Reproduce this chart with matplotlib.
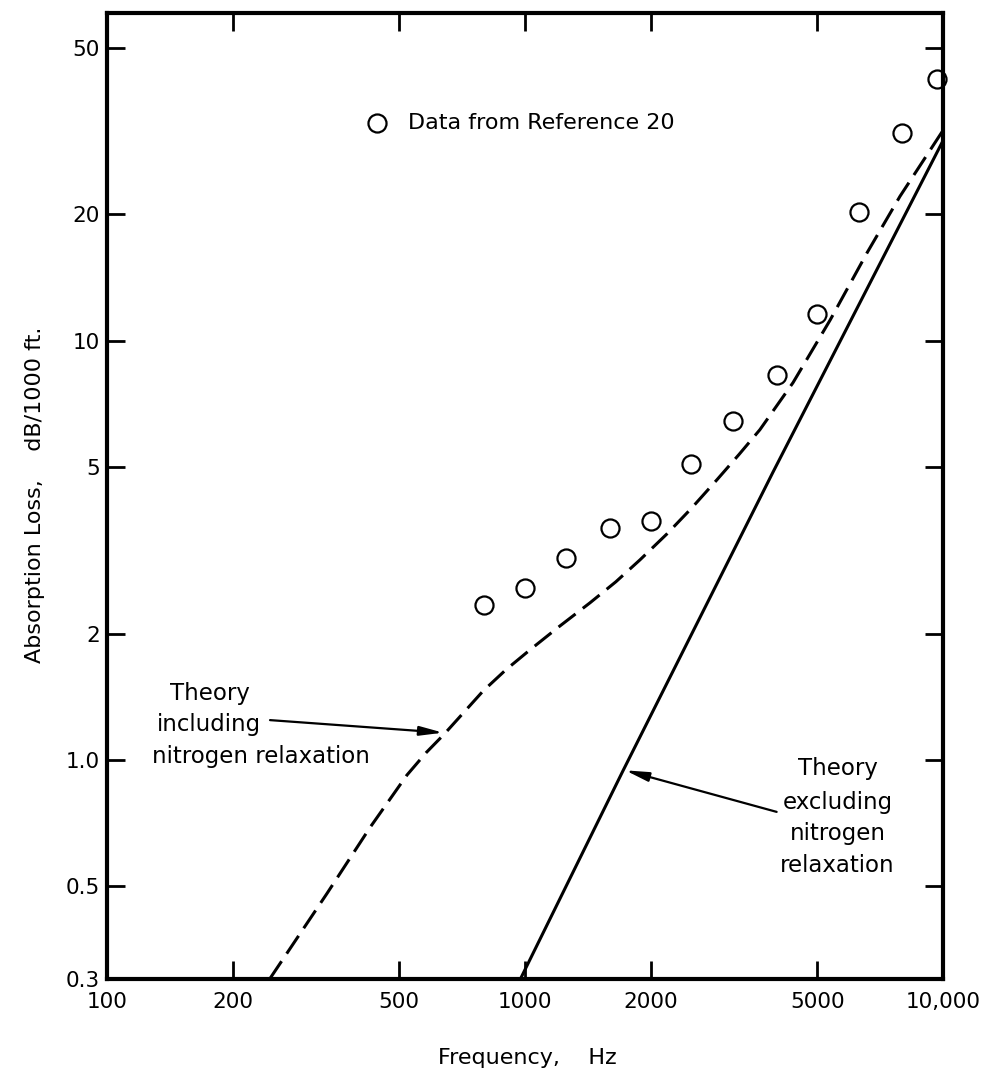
import numpy as np
import matplotlib
matplotlib.use("Agg")
import matplotlib.pyplot as plt

# measured absorption (Reference 20)
meas_freq = [800, 1000, 1250, 1600, 2000, 2500, 3150, 4000, 5000, 6300, 8000, 9700]
meas_loss = [2.34, 2.57, 3.03, 3.58, 3.72, 5.08, 6.44, 8.30, 11.6, 20.3, 31.3, 42.0]

# theory including nitrogen relaxation (dashed)
incl_freq = [245, 336, 426, 522, 580, 640, 710, 794, 900, 1028, 1200, 1431,
             1650, 1884, 2186, 2500, 2880, 3250, 3646, 4377, 5370, 6580,
             7890, 9950]
incl_loss = [0.30, 0.48, 0.69, 0.92, 1.04, 1.15, 1.29, 1.46, 1.64, 1.83,
             2.07, 2.37, 2.66, 3.00, 3.46, 3.98, 4.66, 5.35, 6.13, 7.94,
             11.2, 16.2, 22.1, 31.5]

# theory excluding nitrogen relaxation (solid)
excl_freq = [975, 1714, 3917, 10000]
excl_loss = [0.30, 0.94, 4.85, 30.0]

xticks = [100, 200, 500, 1000, 2000, 5000, 10000]
xtick_labels = ["100", "200", "500", "1000", "2000", "5000", "10,000"]
yticks = [0.3, 0.5, 1.0, 2, 5, 10, 20, 50]
ytick_labels = ["0.3", "0.5", "1.0", "2", "5", "10", "20", "50"]

plt.rcParams['font.family'] = ['DejaVu Sans']
fs = 16

fig = plt.figure(figsize=(9.87, 10.76), dpi=100)
ax = fig.add_axes([107/987, 1-979/1076, 836/987, 966/1076])

ax.set_xscale('log')
ax.set_yscale('log')
ax.set_xlim(100, 10000)
ax.set_ylim(0.3, 60.5)

ax.plot(incl_freq, incl_loss, color='black', lw=2.2, linestyle=(0, (7, 3)))
ax.plot(excl_freq, excl_loss, color='black', lw=2.2)
ax.plot(meas_freq, meas_loss, 'o', ms=13, mfc='white', mec='black', mew=1.6,
        linestyle='none', clip_on=False, zorder=1)

ax.minorticks_off()
ax.set_xticks(xticks)
ax.set_xticklabels(xtick_labels)
ax.set_yticks(yticks)
ax.set_yticklabels(ytick_labels)
ax.tick_params(which='major', direction='in', length=13, width=2,
               top=True, right=True, labelsize=fs - 0.5)
ax.tick_params(axis='x', pad=9)
ax.tick_params(axis='y', pad=5)
for sp in ax.spines.values():
    sp.set_linewidth(3)

# legend entry
ax.plot([0.323], [0.886], 'o', ms=13, mfc='white', mec='black', mew=1.6,
        transform=ax.transAxes)
ax.text(0.360, 0.886, "Data from Reference 20", transform=ax.transAxes,
        fontsize=fs, va='center', ha='left')

# left annotation
ax.text(0.0754, 0.296, "Theory", transform=ax.transAxes, fontsize=fs + 0.5,
        va='center', ha='left')
ax.text(0.0598, 0.263, "including", transform=ax.transAxes, fontsize=fs + 0.5,
        va='center', ha='left')
ax.text(0.0538, 0.230, "nitrogen relaxation", transform=ax.transAxes,
        fontsize=fs + 0.5, va='center', ha='left')
ax.annotate("", xy=(0.402, 0.255), xytext=(0.195, 0.268),
            xycoords='axes fraction', textcoords='axes fraction',
            arrowprops=dict(arrowstyle='-|>,head_length=1.4,head_width=0.28',
                            lw=1.6, color='black', shrinkA=0, shrinkB=0))

# right annotation
for txt, yy in [("Theory", 0.218), ("excluding", 0.183),
                ("nitrogen", 0.151), ("relaxation", 0.118)]:
    ax.text(0.874, yy, txt, transform=ax.transAxes, fontsize=fs + 0.5,
            va='center', ha='center')
ax.annotate("", xy=(0.620, 0.216), xytext=(0.801, 0.173),
            xycoords='axes fraction', textcoords='axes fraction',
            arrowprops=dict(arrowstyle='-|>,head_length=1.4,head_width=0.28',
                            lw=1.6, color='black', shrinkA=0, shrinkB=0))

fig.text(35/987, 1-495/1076, "Absorption Loss,    dB/1000 ft.", rotation=90,
         fontsize=fs, ha='center', va='center')
fig.text(527/987, 1-1058/1076, "Frequency,    Hz", fontsize=fs,
         ha='center', va='center')

fig.savefig("out.png", dpi=100)
